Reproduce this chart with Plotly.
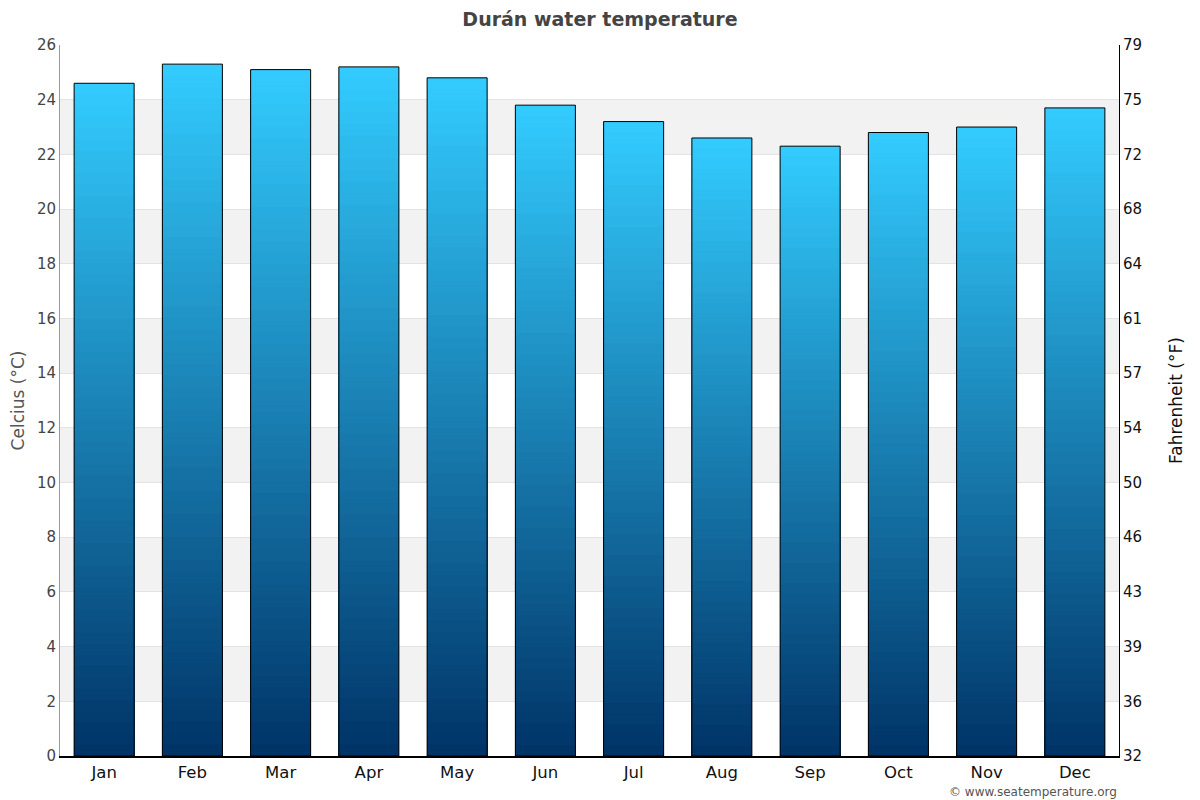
import plotly.graph_objects as go

months = ["Jan", "Feb", "Mar", "Apr", "May", "Jun", "Jul", "Aug", "Sep", "Oct", "Nov", "Dec"]
water_c = [24.6, 25.3, 25.1, 25.2, 24.8, 23.8, 23.2, 22.6, 22.3, 22.8, 23.0, 23.7]
c_ticks = [0, 2, 4, 6, 8, 10, 12, 14, 16, 18, 20, 22, 24, 26]
f_tick_labels = ["32", "36", "39", "43", "46", "50", "54", "57", "61", "64", "68", "72", "75", "79"]

top_rgb = (51, 204, 255)
bot_rgb = (0, 51, 102)
N = 60

fig = go.Figure()
for k in range(N):
    frac_h = (N - k) / N
    frac_c = (N - k - 0.5) / N
    col = tuple(round(bot_rgb[i] + (top_rgb[i] - bot_rgb[i]) * frac_c) for i in range(3))
    fig.add_trace(go.Bar(
        x=months, y=[v * frac_h for v in water_c],
        marker=dict(color="rgb(%d,%d,%d)" % col, line=dict(width=0)),
        hoverinfo="skip", showlegend=False,
    ))
fig.add_trace(go.Bar(
    x=months, y=water_c,
    marker=dict(color="rgba(0,0,0,0)", line=dict(color="black", width=1)),
    showlegend=False, name="Water temperature",
))
# invisible trace for the Fahrenheit axis
fig.add_trace(go.Scatter(
    x=months, y=[v * 1.8 + 32 for v in water_c], yaxis="y2",
    mode="lines", line=dict(width=0), hoverinfo="skip", showlegend=False,
))

shapes = []
for i in range(1, len(c_ticks) - 1, 2):
    shapes.append(dict(type="rect", xref="paper", yref="y", x0=0, x1=1,
                       y0=c_ticks[i], y1=c_ticks[i + 1],
                       fillcolor="#f2f2f2", line=dict(width=0), layer="below"))

fig.update_layout(
    width=1200, height=800,
    margin=dict(l=60, r=81, t=45, b=44),
    paper_bgcolor="white", plot_bgcolor="white",
    barmode="overlay", bargap=0.32,
    font=dict(family="DejaVu Sans", size=15, color="#444"),
    title=dict(text="<b>Durán water temperature</b>", x=0.5, xref="container",
               y=0.976, yanchor="middle", font=dict(size=19, color="#444")),
    shapes=shapes,
    xaxis=dict(range=[-0.5, len(months) - 0.5], showline=True, linecolor="black", linewidth=2,
               ticks="", tickfont=dict(size=16.5, color="#111"), showgrid=False),
    yaxis=dict(range=[0, 26], tickvals=c_ticks, showgrid=True, gridcolor="#e3e3e3",
               showline=True, linecolor="#999", linewidth=1, zeroline=False,
               tickfont=dict(size=15, color="#444"),
               title=dict(text="Celcius (°C)", font=dict(size=17, color="#555"), standoff=7)),
    yaxis2=dict(overlaying="y", side="right", range=[32, 32 + 26 * 1.8],
                tickvals=[c * 1.8 + 32 for c in c_ticks], ticktext=f_tick_labels,
                showgrid=False, showline=True, linecolor="black", linewidth=1, zeroline=False,
                tickfont=dict(size=15, color="#111"),
                title=dict(text="Fahrenheit (°F)", font=dict(size=17, color="#111"), standoff=29)),
    annotations=[dict(text="© www.seatemperature.org", xref="paper", yref="paper",
                      x=1, y=0, xanchor="right", yanchor="top", yshift=-27,
                      showarrow=False, font=dict(size=12, color="#555"))],
)

fig.write_html("out.html", config={"displayModeBar": False},
               post_script="document.body.style.margin='0px';")
